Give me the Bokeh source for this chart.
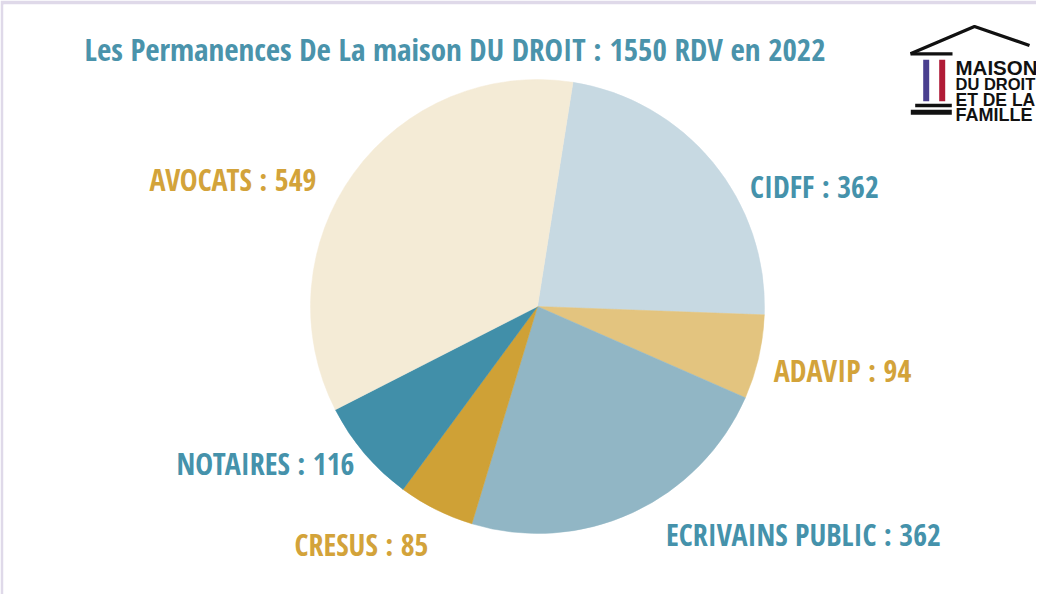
import math
from bokeh.plotting import figure
from bokeh.models import Range1d, ColumnDataSource
from bokeh.core.properties import value
from bokeh.embed import file_html
from bokeh.resources import INLINE

# ---- data ----
categories = ["CIDFF", "ADAVIP", "ECRIVAINS PUBLIC", "CRESUS", "NOTAIRES", "AVOCATS"]
rdv = [362, 94, 362, 85, 116, 549]
slice_colors = ["#c7d9e2", "#e3c47f", "#91b6c5", "#cfa136", "#418fa9", "#f4ebd6"]
label_colors = ["#4592ab", "#d3a33a", "#4592ab", "#d3a33a", "#4592ab", "#d3a33a"]
title_text = "Les Permanences De La maison DU DROIT : 1550 RDV en 2022"
logo_lines = ["MAISON", "DU DROIT", "ET DE LA", "FAMILLE"]

# ---- layout helpers (page pixel -> data) ----
W, H = 1036, 594
LEFT, TOP = 3, 4
FW, FH = W - LEFT, H - TOP

def X(px):
    return px - 8 - LEFT

def Y(py):
    return (8 + H) - py

p = figure(width=W, height=H, output_backend="svg", toolbar_location=None,
           x_range=Range1d(0, FW), y_range=Range1d(0, FH),
           x_axis_location=None, y_axis_location=None,
           min_border_left=LEFT, min_border_top=TOP, min_border_right=0, min_border_bottom=0)
p.border_fill_color = "#dfd9e9"
p.background_fill_color = "#ffffff"
p.outline_line_color = None
p.grid.visible = False

COND = value("Open Sans Condensed")

# ---- pie ----
total = sum(rdv)
start0 = math.radians(81)
starts, ends = [], []
acc = 0.0
for v in rdv:
    starts.append(start0 - 2 * math.pi * acc / total)
    acc += v
    ends.append(start0 - 2 * math.pi * acc / total)

src = ColumnDataSource(dict(cat=categories, v=rdv, start=starts, end=ends, color=slice_colors,
                            x=[X(545)] * len(rdv), y=[Y(314)] * len(rdv)))
p.wedge(x="x", y="y", radius=227, start_angle="start", end_angle="end", direction="clock",
        fill_color="color", line_color="color", line_width=0.5, source=src)

# ---- labels (center x, baseline y in page pixels) ----
label_pos = [(822, 194), (850, 378), (811, 541.5), (369, 551.5), (273, 471), (240.5, 186.5)]
lab = ColumnDataSource(dict(
    x=[X(px) for px, py in label_pos], y=[Y(py) for px, py in label_pos],
    t=[f"{c} : {v}" for c, v in zip(categories, rdv)], c=label_colors))
p.text(x="x", y="y", text="t", text_color="c", source=lab,
       text_font=COND, text_font_style="bold",
       text_font_size="30px", text_align="center", text_baseline="alphabetic")

# ---- title ----
p.text(x=[X(92)], y=[Y(56.5)], text=[title_text], text_color="#4a93ab",
       text_font=COND, text_font_style="bold",
       text_font_size="31px", text_align="left", text_baseline="alphabetic")

# ---- logo ----
p.line(x=[X(918), X(982), X(1037)], y=[Y(61.3), Y(34), Y(53)], line_color="#111111", line_width=3.3)
p.quad(left=[X(918)], right=[X(960)], top=[Y(59.7)], bottom=[Y(63)], fill_color="#111111", line_color=None)
p.quad(left=[X(930.7)], right=[X(936.7)], top=[Y(67.3)], bottom=[Y(108.7)], fill_color="#4a3f8f", line_color=None)
p.quad(left=[X(946.7)], right=[X(952.7)], top=[Y(67.3)], bottom=[Y(108.7)], fill_color="#b01b36", line_color=None)
p.quad(left=[X(922.7), X(918.3)], right=[X(959.3), X(959.3)], top=[Y(111.3), Y(117.3)],
       bottom=[Y(114.7), Y(122.3)], fill_color="#111111", line_color=None)
logo_y = [74.7, 91.3, 107, 122]
logo_sizes = ["20.5px", "16.5px", "17.5px", "18px"]
for txt, yy, sz in zip(logo_lines, logo_y, logo_sizes):
    p.text(x=[X(963)], y=[Y(yy)], text=[txt], text_color="#111111",
           text_font=value("Liberation Sans"), text_font_style="bold",
           text_font_size=sz, text_align="left", text_baseline="alphabetic")

open("out.html", "w").write(file_html(p, INLINE))
